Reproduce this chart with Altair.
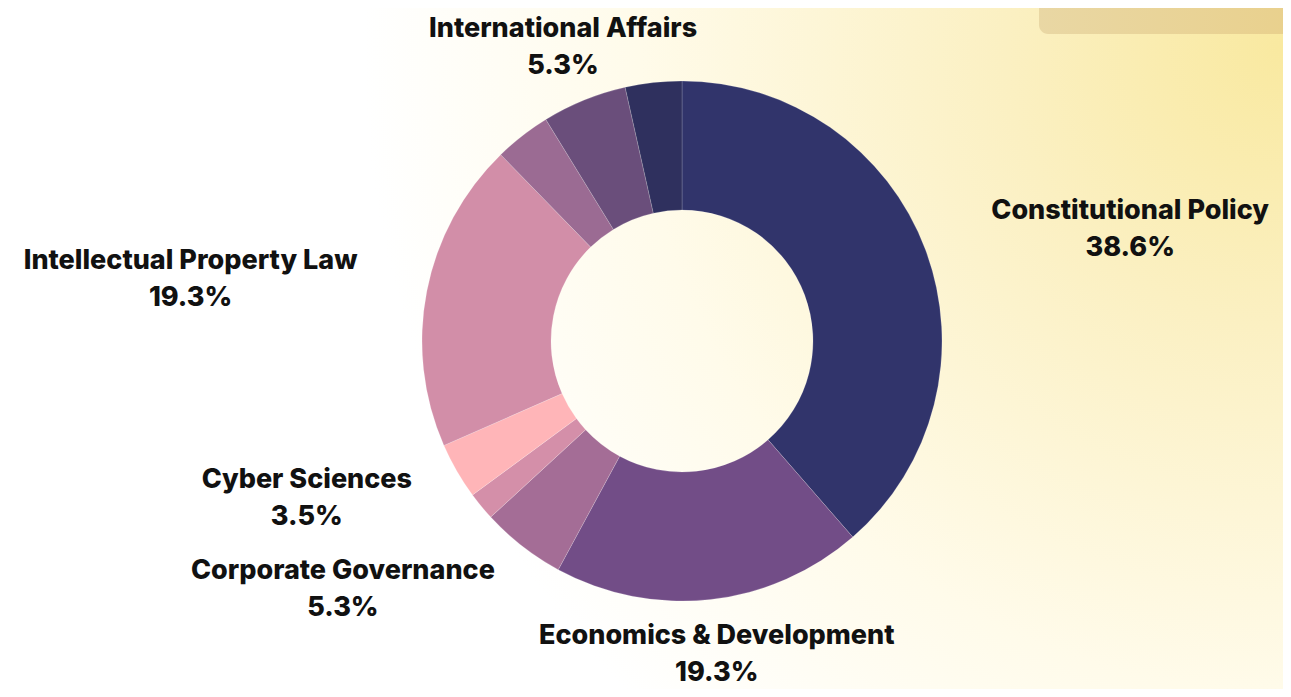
import altair as alt
import pandas as pd

# ---- data (clockwise from 12 o'clock) ----
categories = [
    "Constitutional Policy", "Economics & Development", "Corporate Governance",
    "Unlabeled 1", "Cyber Sciences", "Intellectual Property Law",
    "Unlabeled 2", "International Affairs", "Unlabeled 3",
]
counts = [22, 11, 3, 1, 2, 11, 2, 3, 2]
shown_labels = [
    "Constitutional Policy", "Economics & Development", "Corporate Governance",
    "", "Cyber Sciences", "Intellectual Property Law",
    "", "International Affairs", "",
]
colors = ["#31346b", "#724d87", "#a46d96", "#d48fa9", "#ffb5b8",
          "#d28ea8", "#9b6b93", "#6a4e7b", "#2f305e"]

# ---- layout constants ----
W, H = 1275, 681
CX, CY = 674, 333
R_OUT, R_IN = 260, 131
R_LAB = 316
CHAR_W = 14.5
FONT = "Inter"
FS = 27

df = pd.DataFrame({
    "category": categories,
    "count": counts,
    "label": shown_labels,
    "order": list(range(len(categories))),
})
bg = pd.DataFrame({"k": [0]})

xs = alt.Scale(domain=[0, W], range=[0, W], zero=False, nice=False)
ys = alt.Scale(domain=[0, H], range=[0, H], zero=False, nice=False)

background = alt.Chart(bg).mark_rect(
    clip=True,
    color={
        "gradient": "radial",
        "x1": 0.5, "y1": 0.52, "r1": 0,
        "x2": 0.5, "y2": 0.52, "r2": 0.46,
        "stops": [
            {"offset": 0.0, "color": "#f9e9a0"},
            {"offset": 0.3, "color": "#fbf0c2"},
            {"offset": 0.7, "color": "#fffbea"},
            {"offset": 1.0, "color": "#ffffff"},
        ],
    },
).encode(
    x=alt.value(W - 1000), x2=alt.value(W + 1000),
    y=alt.value(-1000), y2=alt.value(1000),
)

corner_box = alt.Chart(bg).mark_rect(
    clip=True,
    cornerRadius=9,
    color={
        "gradient": "linear",
        "x1": 0, "y1": 0, "x2": 1, "y2": 0,
        "stops": [
            {"offset": 0.0, "color": "#e9d7a4"},
            {"offset": 1.0, "color": "#e9d08b"},
        ],
    },
).encode(
    x=alt.value(1031), x2=alt.value(W + 30),
    y=alt.value(-30), y2=alt.value(26),
)

donut = alt.Chart(df).mark_arc(
    innerRadius=R_IN, outerRadius=R_OUT, stroke="#ffffff", strokeWidth=0.3, strokeOpacity=0.6
).encode(
    theta=alt.Theta("count:Q", stack=True),
    order=alt.Order("order:Q"),
    color=alt.Color("category:N", scale=alt.Scale(domain=categories, range=colors), legend=None),
    x=alt.value(CX),
    y=alt.value(CY),
)

label_base = alt.Chart(df).transform_joinaggregate(
    total="sum(count)"
).transform_window(
    cum="sum(count)", sort=[alt.SortField("order")], frame=[None, 0]
).transform_calculate(
    mid="2*PI*(datum.cum - datum.count/2)/datum.total",
    pct="format(datum.count/datum.total, '.1%')",
).transform_calculate(
    sx="sin(datum.mid)", sy="cos(datum.mid)",
).transform_calculate(
    ax=f"{CX} + {R_LAB}*datum.sx",
    ay=f"{CY} - {R_LAB}*datum.sy",
    w=f"length(datum.label)*{CHAR_W}",
).transform_calculate(
    bx="datum.ax + (datum.sx > 0.5 ? datum.w/2 : (datum.sx < -0.5 ? -datum.w/2 : 0))",
).transform_filter(
    "datum.label != ''"
).encode(
    x=alt.X("bx:Q", scale=xs, axis=None),
    y=alt.Y("ay:Q", scale=ys, axis=None),
)

name_text = label_base.mark_text(
    font=FONT, fontSize=FS, fontWeight=800, color="#111111", dy=-19, baseline="middle"
).encode(text="label:N")

pct_text = label_base.mark_text(
    font=FONT, fontSize=FS, fontWeight=800, color="#111111", dy=18, baseline="middle"
).encode(text="pct:N")

chart = alt.layer(background, corner_box, donut, name_text, pct_text).properties(
    width=W, height=H,
    autosize=alt.AutoSizeParams(type="none"),
    padding=0,
).configure_view(stroke=None)

chart.save("out.html", embed_options={"renderer": "svg", "actions": False})
